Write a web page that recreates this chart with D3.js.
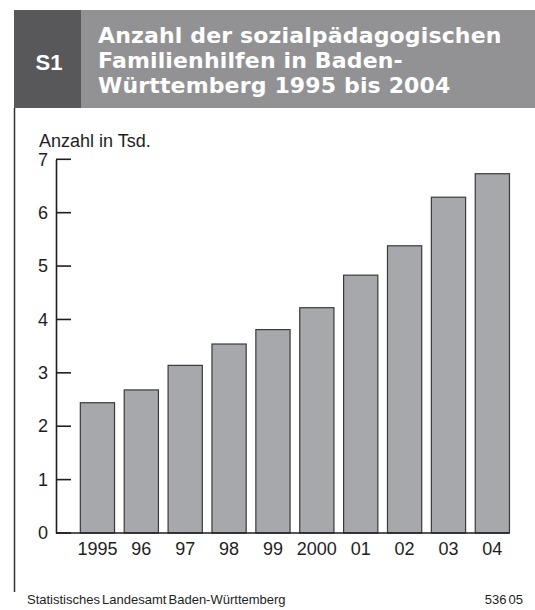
<!DOCTYPE html>
<html>
<head>
<meta charset="utf-8">
<script src="https://cdn.jsdelivr.net/npm/d3@7"></script>
<style>
  body { margin: 0; background: #fff; }
  svg { display: block; }
</style>
</head>
<body>
<div id="chart"></div>
<script>
// chart data
const years = ["1995", "96", "97", "98", "99", "2000", "01", "02", "03", "04"];
const values = [2.44, 2.68, 3.14, 3.54, 3.81, 4.22, 4.83, 5.38, 6.29, 6.73];
const yTicks = [0, 1, 2, 3, 4, 5, 6, 7];
const titleLines = ["Anzahl der sozialpädagogischen", "Familienhilfen in Baden-", "Württemberg 1995 bis 2004"];

const W = 535, H = 610;
const ink = "#1e1e1e";

let svg = d3.select("#chart")
    .append("svg")
    .attr("width", W)
    .attr("height", H);

// header boxes
svg.append("rect")
    .attr("x", 14).attr("y", 10)
    .attr("width", 67).attr("height", 98)
    .attr("fill", "#58585a");
svg.append("rect")
    .attr("x", 81).attr("y", 10)
    .attr("width", W - 81).attr("height", 98)
    .attr("fill", "#929295");

svg.append("text")
    .attr("x", 49).attr("y", 70)
    .attr("text-anchor", "middle")
    .style("font-family", "'Liberation Sans', Arial, sans-serif")
    .style("font-weight", "bold")
    .style("font-size", "22px")
    .attr("fill", "#fff")
    .text("S1");

svg.selectAll(".title-line")
    .data(titleLines)
    .enter().append("text")
    .attr("class", "title-line")
    .attr("x", 98)
    .attr("y", (d, i) => 43 + i * 25)
    .style("font-family", "'DejaVu Sans', sans-serif")
    .style("font-weight", "bold")
    .style("font-size", "22px")
    .style("letter-spacing", "0.15px")
    .attr("fill", "#fff")
    .text(d => d);

// left frame line
svg.append("line")
    .attr("x1", 14.5).attr("x2", 14.5)
    .attr("y1", 108).attr("y2", 592)
    .attr("stroke", "#333")
    .attr("stroke-width", 1.5);

// scales
const y = d3.scaleLinear()
    .domain([0, 7])
    .range([533, 159.3]);

const x = d3.scaleBand()
    .domain(years)
    .range([75.5, 514.3])
    .paddingInner(0.22)
    .paddingOuter(0.11);

// bars
svg.selectAll(".bar")
    .data(values)
    .enter().append("rect")
    .attr("class", "bar")
    .attr("x", (d, i) => x(years[i]))
    .attr("y", d => y(d))
    .attr("width", x.bandwidth())
    .attr("height", d => y(0) - y(d))
    .attr("fill", "#a7a8ab")
    .attr("stroke", "#3a3a3c")
    .attr("stroke-width", 1.2);

// y axis: labels from d3 axis, ticks drawn inwards by hand
const yAxis = svg.append("g")
    .attr("transform", "translate(56,0)")
    .call(d3.axisLeft(y)
        .tickValues(yTicks)
        .tickFormat(d3.format("d"))
        .tickSize(0)
        .tickPadding(8));
yAxis.select(".domain").attr("stroke", ink).attr("stroke-width", 1.6);
yAxis.selectAll(".tick text")
    .attr("fill", ink)
    .style("font-family", "'Liberation Sans', Arial, sans-serif")
    .style("font-size", "18px");

svg.append("g")
    .selectAll("line")
    .data(yTicks)
    .enter().append("line")
    .attr("x1", 56)
    .attr("x2", 71)
    .attr("y1", d => y(d))
    .attr("y2", d => y(d))
    .attr("stroke", ink)
    .attr("stroke-width", 1.6);

// x axis baseline + labels
const xAxis = svg.append("g")
    .attr("transform", "translate(0," + y(0) + ")")
    .call(d3.axisBottom(x).tickSize(0).tickPadding(9));
xAxis.select(".domain").remove();
xAxis.append("line")
    .attr("x1", 56).attr("x2", 509.5)
    .attr("stroke", ink)
    .attr("stroke-width", 1.6);
xAxis.selectAll(".tick text")
    .attr("fill", ink)
    .style("font-family", "'Liberation Sans', Arial, sans-serif")
    .style("font-size", "18px");

// unit label
svg.append("text")
    .attr("x", 39).attr("y", 147)
    .attr("fill", ink)
    .style("font-family", "'Liberation Sans', Arial, sans-serif")
    .style("font-size", "18px")
    .text("Anzahl in Tsd.");

// footer
svg.append("text")
    .attr("x", 27).attr("y", 604)
    .attr("fill", ink)
    .style("font-family", "'Liberation Sans', Arial, sans-serif")
    .style("font-size", "13px")
    .style("word-spacing", "-1.5px")
    .text("Statistisches Landesamt Baden-Württemberg");

svg.append("text")
    .attr("x", 523).attr("y", 604)
    .attr("text-anchor", "end")
    .attr("fill", ink)
    .style("font-family", "'Liberation Sans', Arial, sans-serif")
    .style("font-size", "13px")
    .style("word-spacing", "-1.5px")
    .text("536 05");
</script>
</body>
</html>
